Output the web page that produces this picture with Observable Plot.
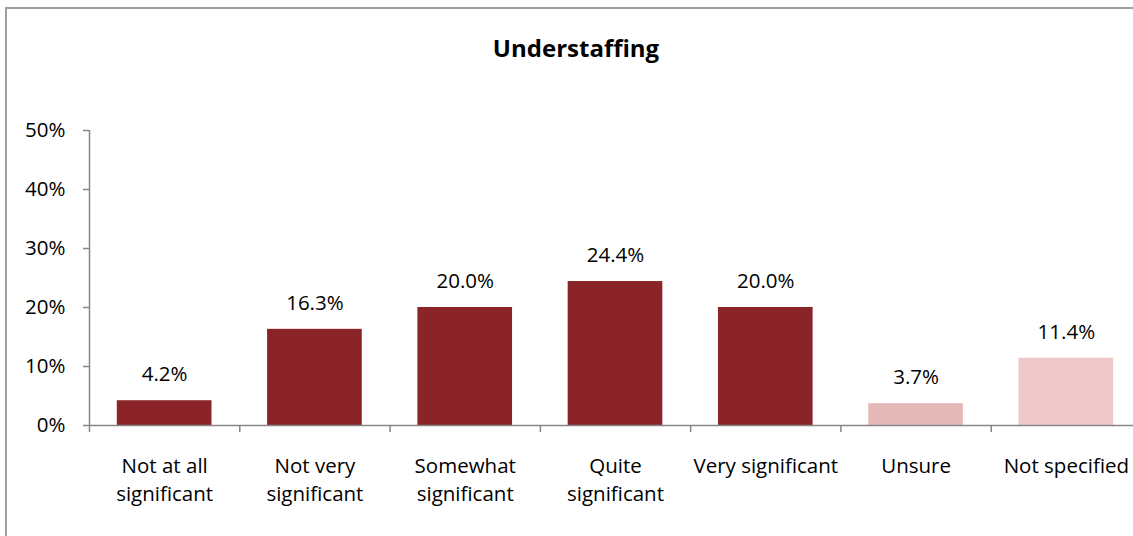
<!DOCTYPE html>
<html>
<head>
<meta charset="utf-8">
<script src="https://cdn.jsdelivr.net/npm/d3@7"></script>
<script src="https://cdn.jsdelivr.net/npm/@observablehq/plot@0.6"></script>
<style>
  html, body { margin: 0; padding: 0; background: #fff; overflow: hidden; }
  #wrap { position: relative; width: 1133px; height: 536px; overflow: hidden; }
  #frame { position: absolute; left: 5px; top: 7px; width: 1200px; height: 600px; border-top: 2px solid #a0a0a0; border-left: 2px solid #a0a0a0; box-sizing: border-box; }
  #title { position: absolute; top: 31px; left: 0; width: 1152px; text-align: center; font-family: "Open Sans", sans-serif; font-weight: bold; font-size: 24px; color: #000; }
  #chart { position: absolute; left: 0; top: 0; }
</style>
</head>
<body>
<div id="wrap">
  <div id="frame"></div>
  <div id="chart"></div>
  <div id="title">Understaffing</div>
</div>
<script>
const categories = ["Not at all\nsignificant", "Not very\nsignificant", "Somewhat\nsignificant", "Quite\nsignificant", "Very significant", "Unsure", "Not specified"];
const values = [4.2, 16.3, 20.0, 24.4, 20.0, 3.7, 11.4];
const barColors = ["#8B2429", "#8B2429", "#8B2429", "#8B2429", "#8B2429", "#E6B9B9", "#F0C8C9"];
const yTicks = [0, 10, 20, 30, 40, 50];

const data = categories.map((c, i) => ({i, c, v: values[i], color: barColors[i]}));
const bounds = d3.range(categories.length + 1);
const centers = d3.range(categories.length).map(i => i + 0.5);
const axisGray = "#868686";

const chart = Plot.plot({
  width: 1133,
  height: 536,
  marginTop: 130,
  marginBottom: 111,
  marginLeft: 89,
  marginRight: 0,
  style: {fontFamily: "'Open Sans', sans-serif", fontSize: "20.5px", color: "#000", background: "transparent", overflow: "visible"},
  x: {type: "linear", domain: [0, categories.length], range: [89, 1141]},
  y: {domain: [0, 50]},
  color: {type: "identity"},
  marks: [
    Plot.rectY(data, {x1: d => d.i + 0.185, x2: d => d.i + 0.815, y: "v", fill: d => d.color}),
    Plot.ruleY([0], {stroke: axisGray, strokeWidth: 1.5}),
    Plot.ruleX([0], {y1: 0, y2: 50, stroke: axisGray, strokeWidth: 1.5}),
    Plot.axisX(bounds, {tickSize: 7, tickFormat: () => "", stroke: axisGray, strokeWidth: 1.5, label: null}),
    Plot.axisX(centers, {tickSize: 0, tickPadding: 27, tickFormat: d => categories[Math.floor(d)], fill: "#000", lineHeight: 1.38, fontSize: 20.5, label: null}),
    Plot.axisY(yTicks, {tickSize: 6, tickPadding: 18, tickFormat: d => d + "%", stroke: axisGray, strokeWidth: 1.5, fill: "#000", fontSize: 20.5, label: null}),
    Plot.text(data, {x: d => d.i + 0.5, y: "v", text: d => d.v.toFixed(1) + "%", dy: -26, fontSize: 20.5, fill: "#000"})
  ]
});
document.getElementById("chart").appendChild(chart);
</script>
</body>
</html>
